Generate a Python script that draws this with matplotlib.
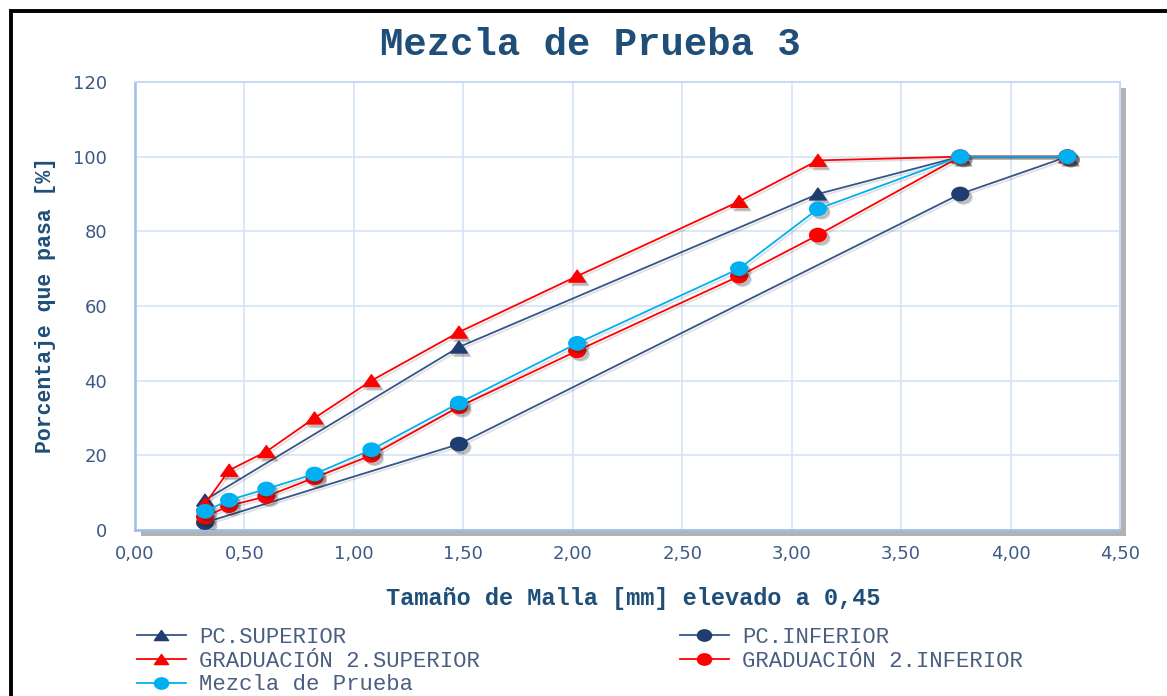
import matplotlib
matplotlib.use("Agg")
import matplotlib.pyplot as plt
import matplotlib.patheffects as pe
from matplotlib.path import Path
from matplotlib.transforms import Affine2D
from matplotlib.patches import Rectangle

# tamaño de malla [mm] elevado a 0,45
malla = [0.32, 0.43, 0.60, 0.82, 1.08, 1.48, 2.02, 2.76, 3.12, 3.77, 4.26]
pc_sup_x = [0.32, 1.48, 3.12, 3.77, 4.26]
pc_sup_y = [8, 49, 90, 100, 100]
pc_inf_x = [0.32, 1.48, 3.77, 4.26]
pc_inf_y = [2, 23, 90, 100]
grad_sup = [7, 16, 21, 30, 40, 53, 68, 88, 99, 100, 100]
grad_inf = [3.5, 6.5, 9, 14, 20, 33, 48, 68, 79, 100, 100]
mezcla = [5, 8, 11, 15, 21.5, 34, 50, 70, 86, 100, 100]

x_ticks = [0, 0.5, 1.0, 1.5, 2.0, 2.5, 3.0, 3.5, 4.0, 4.5]
x_ticklabels = ["0,00", "0,50", "1,00", "1,50", "2,00", "2,50", "3,00", "3,50", "4,00", "4,50"]
y_ticks = [0, 20, 40, 60, 80, 100, 120]

navy_line = "#34558a"
navy = "#1f3d6e"
red = "#ff0000"
cyan = "#00b0f0"
text_blue = "#1f4e79"
tick_col = "#3d5a84"
mono = "Liberation Mono"

# slightly wide markers, like the original
circle = Path.unit_circle().transformed(Affine2D().scale(1.25, 1))
tri = Path([[0, 1], [-1.4, -1], [1.4, -1], [0, 1]],
           [Path.MOVETO, Path.LINETO, Path.LINETO, Path.CLOSEPOLY])

fig = plt.figure(figsize=(11.67, 6.96), dpi=100)
ax = fig.add_axes([135 / 1167, 1 - 530 / 696, 985 / 1167, 448 / 696])

series = [
    ("PC.SUPERIOR", pc_sup_x, pc_sup_y, navy_line, navy, tri),
    ("PC.INFERIOR", pc_inf_x, pc_inf_y, navy_line, navy, circle),
    ("GRADUACIÓN 2.SUPERIOR", malla, grad_sup, red, red, tri),
    ("GRADUACIÓN 2.INFERIOR", malla, grad_inf, red, red, circle),
    ("Mezcla de Prueba", malla, mezcla, cyan, cyan, circle),
]

handles = {}
for i, (name, xs, ys, lc, mc, mk) in enumerate(series):
    # soft marker drop shadows
    ax.plot(xs, ys, ls="none", marker=mk, ms=13, color="none", mec="none",
            zorder=2 + i,
            path_effects=[pe.SimplePatchShadow(offset=(2.5, -2.5), shadow_rgbFace="0.2", alpha=0.25)])
    h, = ax.plot(xs, ys, color=lc, lw=1.3, marker=mk, ms=12, mfc=mc, mec=mc,
                 label=name, zorder=3 + i,
                 path_effects=[pe.SimpleLineShadow(offset=(1.5, -1.5), alpha=0.12), pe.Normal()])
    handles[name] = h

ax.set_xlim(0, 4.5)
ax.set_ylim(0, 120)
ax.set_xticks(x_ticks)
ax.set_xticklabels(x_ticklabels)
ax.set_yticks(y_ticks)
ax.tick_params(length=0, labelsize=13, colors=tick_col)
ax.tick_params(axis="x", pad=11)
ax.tick_params(axis="y", pad=20)
ax.grid(True, color="#d6e4f5", lw=1.2)
ax.set_axisbelow(True)
for side in ["left", "bottom"]:
    ax.spines[side].set_color("#9dbde6")
    ax.spines[side].set_linewidth(1.8)
for side in ["top", "right"]:
    ax.spines[side].set_color("#c8dbf2")
    ax.spines[side].set_linewidth(1.5)
ax.patch.set_path_effects([pe.SimplePatchShadow(offset=(4, -4), shadow_rgbFace="0.5", alpha=0.6), pe.Normal()])

fig.text(0.506, 1 - 45 / 696, "Mezcla de Prueba 3", ha="center", va="center",
         family=mono, fontsize=28, fontweight="bold", color=text_blue)
ax.set_xlabel("Tamaño de Malla [mm] elevado a 0,45", family=mono, fontsize=17,
              fontweight="bold", color=text_blue, va="center")
ax.xaxis.set_label_coords(0.506, -0.152)
ax.set_ylabel("Porcentaje que pasa [%]", family=mono, fontsize=15.5,
              fontweight="bold", color=text_blue, va="center")
ax.yaxis.set_label_coords(-0.091, 0.502)

col1 = ["PC.SUPERIOR", "GRADUACIÓN 2.SUPERIOR", "Mezcla de Prueba"]
col2 = ["PC.INFERIOR", "GRADUACIÓN 2.INFERIOR"]
for names, x0 in [(col1, 137), (col2, 680)]:
    leg = fig.legend([handles[n] for n in names], names, loc="upper left",
                     bbox_to_anchor=(x0 / 1167, 1 - 627 / 696), frameon=False,
                     prop={"family": mono, "size": 16}, labelcolor="#4a5f80",
                     handlelength=2.2, handletextpad=0.6, labelspacing=0.12,
                     borderpad=0, borderaxespad=0, markerscale=0.85)
    for ln in leg.get_lines():
        ln.set_path_effects([])

# black frame of the original picture
fig.add_artist(Rectangle((10.5 / 1167, -0.1), 1.0, 1.1 - 11 / 696,
                         transform=fig.transFigure, fill=False, ec="black", lw=2.8))

fig.savefig("out.png", dpi=100)
